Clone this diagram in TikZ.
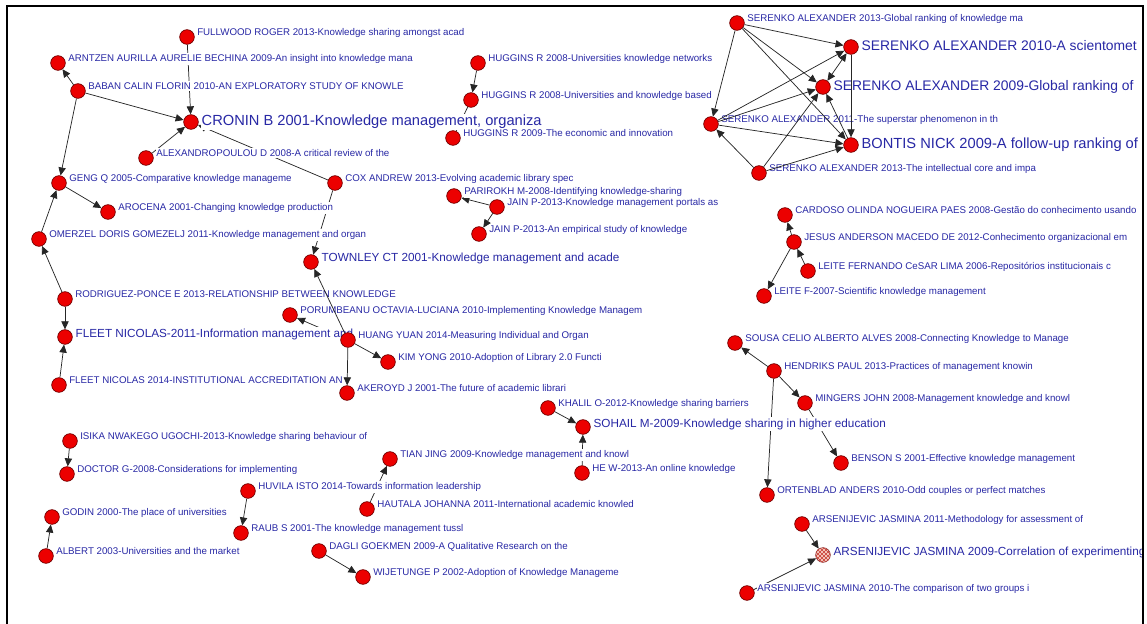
\documentclass[tikz,border=0pt]{standalone}
\usepackage{fontspec}
\setmainfont{Liberation Sans}
\usetikzlibrary{arrows.meta,patterns}

\pgfdeclarelayer{edgelayer}
\pgfdeclarelayer{labellayer}
\pgfsetlayers{edgelayer,labellayer,main}

\definecolor{lblue}{RGB}{40,40,165}
\definecolor{dotred}{RGB}{236,0,0}
\definecolor{dotrim}{RGB}{110,0,0}
\definecolor{hatchpink}{RGB}{246,205,195}
\definecolor{hatchred}{RGB}{200,60,50}

\tikzset{
  dot/.style={circle, fill=dotred, draw=dotrim, line width=0.5pt,
    minimum size=11pt, inner sep=0pt},
  hatchdot/.style={circle, draw=dotrim!80, line width=0.5pt,
    minimum size=11pt, inner sep=0pt, fill=hatchpink,
    postaction={pattern=north east lines, pattern color=hatchred},
    postaction={pattern=north west lines, pattern color=hatchred}},
  lblbase/.style={anchor=base west, fill=white, inner xsep=0.5pt,
    inner ysep=1pt, text=lblue},
  lbls/.style={lblbase, font=\fontsize{7.3}{8}\selectfont,
    xshift=7pt, yshift=1.1pt},
  lblm/.style={lblbase, font=\fontsize{8.8}{10}\selectfont,
    xshift=7.3pt, yshift=0pt},
  lbll/.style={lblbase, font=\fontsize{11}{13}\selectfont,
    xshift=7.3pt, yshift=-3pt},
  lbllc/.style={lblbase, font=\fontsize{10.4}{12}\selectfont,
    xshift=7.3pt, yshift=-3pt},
  cite/.style={line width=0.55pt, black!85,
    -{Triangle[length=6pt,width=5.5pt]}},
  bicite/.style={line width=0.55pt, black!85,
    {Triangle[length=6pt,width=5.5pt]}-{Triangle[length=6pt,width=5.5pt]}},
  link/.style={line width=0.55pt, black!85},
  frame/.style={line width=1.5pt, black}
}

% #1 name, #2 x, #3 y, #4 dot style, #5 label style, #6 label text
\newcommand{\pub}[6]{%
  \node[#4] (#1) at (#2,#3) {};
  \begin{pgfonlayer}{labellayer}
    \node[#5] (#1-t) at (#1.center) {#6};
  \end{pgfonlayer}}

\begin{document}
\begin{tikzpicture}[x=0.75pt,y=-0.75pt]
\useasboundingbox (0,0) rectangle (1147,624);

% --- publications: left cluster around CRONIN ---
\pub{fullwood}{187}{37}{dot}{lbls}{FULLWOOD ROGER 2013-Knowledge sharing amongst acad}
\pub{arntzen}{58}{63}{dot}{lbls}{ARNTZEN AURILLA AURELIE BECHINA 2009-An insight into knowledge mana}
\pub{baban}{78}{91}{dot}{lbls}{BABAN CALIN FLORIN 2010-AN EXPLORATORY STUDY OF KNOWLE}
\pub{cronin}{191}{122}{dot}{lbll}{CRONIN B 2001-Knowledge management, organiza}
\pub{alexandro}{146}{158}{dot}{lbls}{ALEXANDROPOULOU D 2008-A critical review of the}
\pub{geng}{59}{183}{dot}{lbls}{GENG Q 2005-Comparative knowledge manageme}
\pub{arocena}{108}{212}{dot}{lbls}{AROCENA 2001-Changing knowledge production}
\pub{omerzel}{39}{239}{dot}{lbls}{OMERZEL DORIS GOMEZELJ 2011-Knowledge management and organ}
\pub{cox}{335}{183}{dot}{lbls}{COX ANDREW 2013-Evolving academic library spec}
\pub{townley}{311}{262}{dot}{lblm}{TOWNLEY CT 2001-Knowledge management and acade}
\pub{rodriguez}{65}{299}{dot}{lbls}{RODRIGUEZ-PONCE E 2013-RELATIONSHIP BETWEEN KNOWLEDGE}
\pub{fleetA}{65}{337}{dot}{lblm}{FLEET NICOLAS-2011-Information management and}
\pub{fleetB}{59}{385}{dot}{lbls}{FLEET NICOLAS 2014-INSTITUTIONAL ACCREDITATION AN}
\pub{porumbeanu}{290}{315}{dot}{lbls}{PORUMBEANU OCTAVIA-LUCIANA 2010-Implementing Knowledge Managem}
\pub{huang}{348}{340}{dot}{lbls}{HUANG YUAN 2014-Measuring Individual and Organ}
\pub{kim}{388}{362}{dot}{lbls}{KIM YONG 2010-Adoption of Library 2.0 Functi}
\pub{akeroyd}{347}{393}{dot}{lbls}{AKEROYD J 2001-The future of academic librari}

% --- HUGGINS chain ---
\pub{hugA}{478}{63}{dot}{lbls}{HUGGINS R 2008-Universities knowledge networks}
\pub{hugB}{471}{100}{dot}{lbls}{HUGGINS R 2008-Universities and knowledge based}
\pub{hugC}{453}{138}{dot}{lbls}{HUGGINS R 2009-The economic and innovation}

% --- JAIN group ---
\pub{parirokh}{454}{196}{dot}{lbls}{PARIROKH M-2008-Identifying knowledge-sharing}
\pub{jainA}{497}{207}{dot}{lbls}{JAIN P-2013-Knowledge management portals as}
\pub{jainB}{479}{234}{dot}{lbls}{JAIN P-2013-An empirical study of knowledge}

% --- SERENKO / BONTIS cluster ---
\pub{serA}{737}{23}{dot}{lbls}{SERENKO ALEXANDER 2013-Global ranking of knowledge ma}
\pub{serB}{851}{47}{dot}{lbllc}{SERENKO ALEXANDER 2010-A scientomet}
\pub{serC}{823}{87}{dot}{lbllc}{SERENKO ALEXANDER 2009-Global ranking of}
\pub{serD}{711}{124}{dot}{lbls}{SERENKO ALEXANDER 2011-The superstar phenomenon in th}
\pub{bontis}{851}{145}{dot}{lbll}{BONTIS NICK 2009-A follow-up ranking of}
\pub{serE}{759}{173}{dot}{lbls}{SERENKO ALEXANDER 2013-The intellectual core and impa}

% --- CARDOSO / LEITE group ---
\pub{cardoso}{785}{215}{dot}{lbls}{CARDOSO OLINDA NOGUEIRA PAES 2008-Gestão do conhecimento usando}
\pub{jesus}{794}{242}{dot}{lbls}{JESUS ANDERSON MACEDO DE 2012-Conhecimento organizacional em}
\pub{leiteA}{808}{271}{dot}{lbls}{LEITE FERNANDO CeSAR LIMA 2006-Repositórios institucionais c}
\pub{leiteB}{764}{296}{dot}{lbls}{LEITE F-2007-Scientific knowledge management}

% --- HENDRIKS group ---
\pub{sousa}{735}{343}{dot}{lbls}{SOUSA CELIO ALBERTO ALVES 2008-Connecting Knowledge to Manage}
\pub{hendriks}{774}{371}{dot}{lbls}{HENDRIKS PAUL 2013-Practices of management knowin}
\pub{mingers}{805}{403}{dot}{lbls}{MINGERS JOHN 2008-Management knowledge and knowl}
\pub{benson}{841}{463}{dot}{lbls}{BENSON S 2001-Effective knowledge management}
\pub{ortenblad}{767}{495}{dot}{lbls}{ORTENBLAD ANDERS 2010-Odd couples or perfect matches}

% --- ARSENIJEVIC group ---
\pub{arsA}{802}{524}{dot}{lbls}{ARSENIJEVIC JASMINA 2011-Methodology for assessment of}
\pub{arsB}{823}{555}{hatchdot}{lblm}{ARSENIJEVIC JASMINA 2009-Correlation of experimenting}
\pub{arsC}{747}{593}{dot}{lbls}{ARSENIJEVIC JASMINA 2010-The comparison of two groups i}

% --- SOHAIL group ---
\pub{khalil}{548}{408}{dot}{lbls}{KHALIL O-2012-Knowledge sharing barriers}
\pub{sohail}{583}{427}{dot}{lblm}{SOHAIL M-2009-Knowledge sharing in higher education}
\pub{hew}{582}{473}{dot}{lbls}{HE W-2013-An online knowledge}

% --- small pairs ---
\pub{tian}{390}{459}{dot}{lbls}{TIAN JING 2009-Knowledge management and knowl}
\pub{hautala}{367}{509}{dot}{lbls}{HAUTALA JOHANNA 2011-International academic knowled}
\pub{isika}{70}{441}{dot}{lbls}{ISIKA NWAKEGO UGOCHI-2013-Knowledge sharing behaviour of}
\pub{doctor}{67}{474}{dot}{lbls}{DOCTOR G-2008-Considerations for implementing}
\pub{huvila}{248}{491}{dot}{lbls}{HUVILA ISTO 2014-Towards information leadership}
\pub{raub}{241}{533}{dot}{lbls}{RAUB S 2001-The knowledge management tussl}
\pub{godin}{52}{517}{dot}{lbls}{GODIN 2000-The place of universities}
\pub{albert}{46}{556}{dot}{lbls}{ALBERT 2003-Universities and the market}
\pub{dagli}{319}{551}{dot}{lbls}{DAGLI GOEKMEN 2009-A Qualitative Research on the}
\pub{wijetunge}{363}{577}{dot}{lbls}{WIJETUNGE P 2002-Adoption of Knowledge Manageme}

% --- citation links (under the labels) ---
\begin{pgfonlayer}{edgelayer}
  \draw[cite] (fullwood) -- (cronin);
  \draw[cite] (baban) -- (cronin);
  \draw[cite] (baban) -- (arntzen);
  \draw[cite] (baban) -- (geng);
  \draw[cite] (alexandro) -- (cronin);
  \draw[cite] (cox) -- (cronin);
  \draw[cite] (cox) -- (townley);
  \draw[cite] (geng) -- (arocena);
  \draw[cite] (omerzel) -- (geng);
  \draw[cite] (rodriguez) -- (omerzel);
  \draw[cite] (rodriguez) -- (fleetA);
  \draw[cite] (fleetB) -- (fleetA);
  \draw[cite] (huang) -- (porumbeanu);
  \draw[cite] (huang) -- (kim);
  \draw[cite] (huang) -- (akeroyd);

  \draw[cite] (hugA) -- (hugB);
  \draw[link] (hugB) -- (hugC);

  \draw[cite] (jainA) -- (parirokh);
  \draw[cite] (jainA) -- (jainB);

  \draw[cite] (jesus) -- (cardoso);
  \draw[cite] (leiteA) -- (jesus);
  \draw[cite] (jesus) -- (leiteB);

  \draw[cite] (hendriks) -- (sousa);
  \draw[cite] (hendriks) -- (mingers);
  \draw[cite] (mingers) -- (benson);
  \draw[cite] (hendriks) -- (ortenblad);

  \draw[cite] (arsA) -- (arsB);
  \draw[cite] (arsC) -- (arsB);

  \draw[cite] (khalil) -- (sohail);
  \draw[cite] (hew) -- (sohail);

  \draw[cite] (hautala) -- (tian);
  \draw[cite] (isika) -- (doctor);
  \draw[cite] (huvila) -- (raub);
  \draw[cite] (albert) -- (godin);
  \draw[cite] (dagli) -- (wijetunge);
\end{pgfonlayer}

% links drawn over the labels they cross
\draw[cite] (huang) -- (townley);

\draw[cite] (serA) -- (serB);
\draw[cite] (serA) -- (serC);
\draw[cite] (serA) -- (bontis);
\draw[cite] (serA) -- (serD);
\draw[cite] (serD) -- (serB);
\draw[cite] (serD) -- (serC);
\draw[cite] (serD) -- (bontis);
\draw[cite] (serE) -- (serD);
\draw[cite] (serE) -- (serC);
\draw[cite] (serE) -- (bontis);
\draw[cite] (serB) -- (bontis);
\draw[bicite] (serC) -- (serB);
\draw[cite] (bontis) -- (serC);

% right margin beyond the frame, then the frame itself
\fill[white] (1143,0) rectangle (1170,624);
\draw[frame] (7,630) -- (7,6) -- (1143,6) -- (1143,630);
\end{tikzpicture}
\end{document}
